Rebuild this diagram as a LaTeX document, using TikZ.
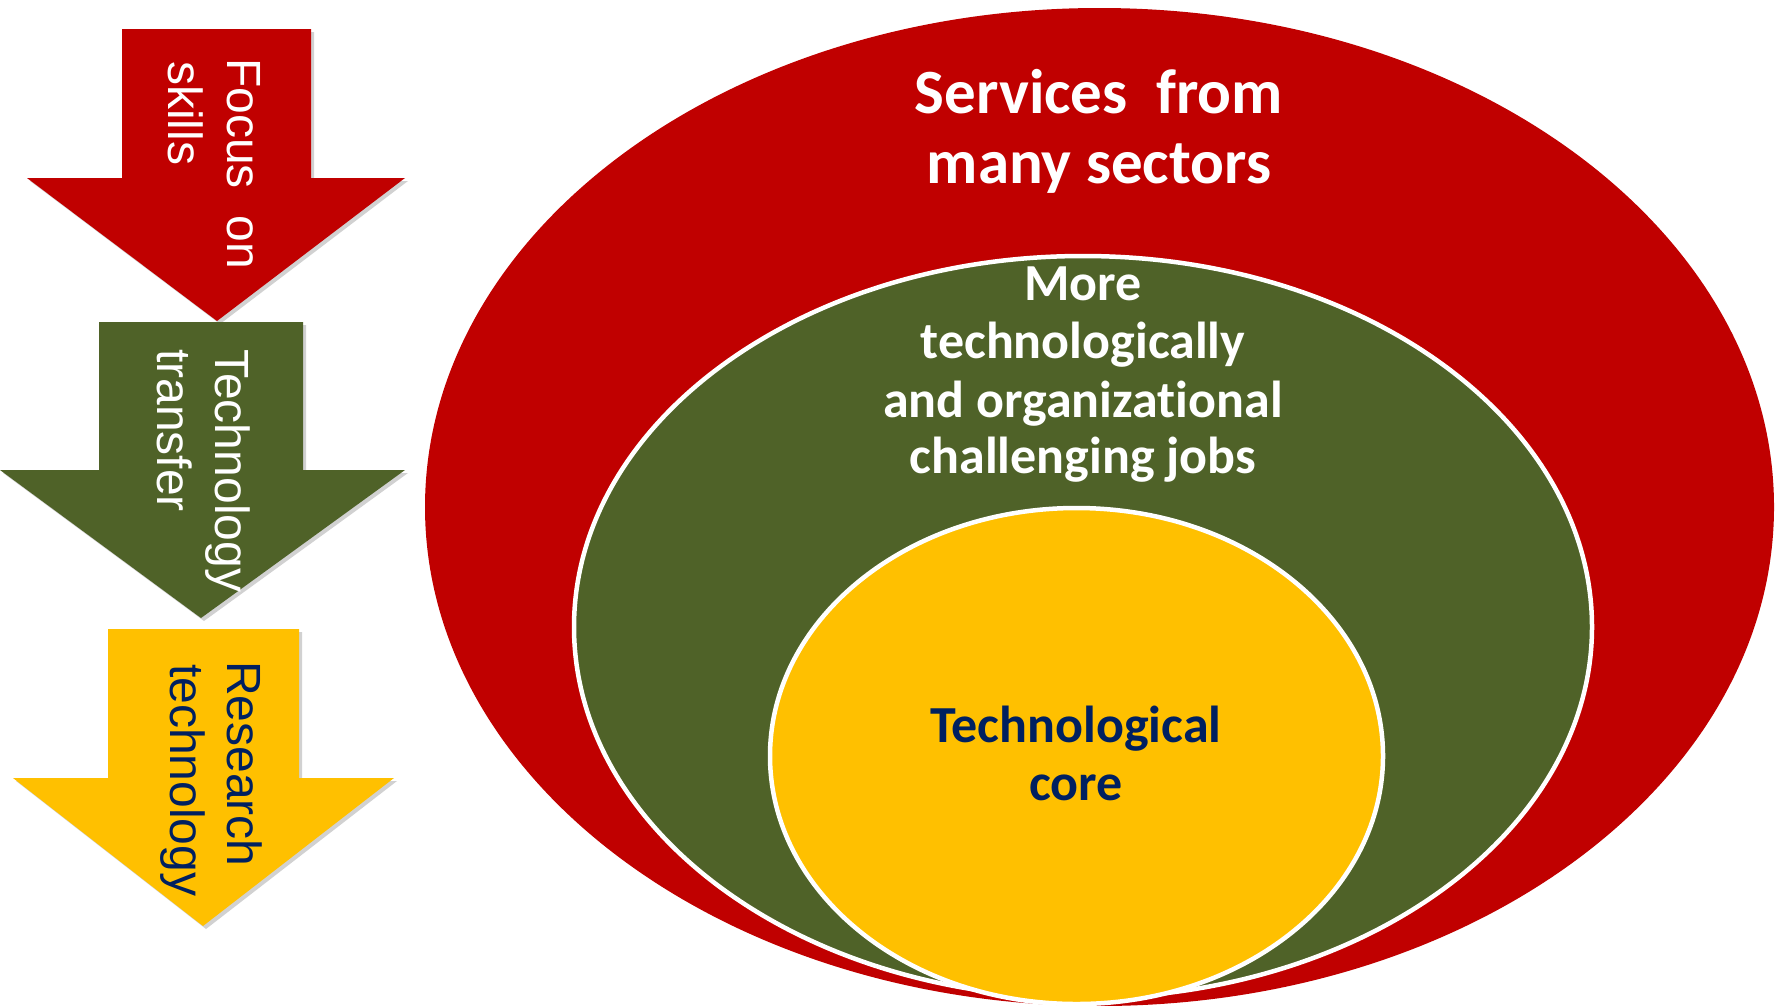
\documentclass[tikz,border=0pt]{standalone}
\usepackage{fontspec}
\setmainfont{Liberation Sans}
\newfontfamily\calib[Ligatures=NoCommon]{Carlito}
\definecolor{rd}{HTML}{C00000}
\definecolor{gr}{HTML}{4F6228}
\definecolor{yl}{HTML}{FFC000}
\definecolor{nv}{HTML}{002060}
\tikzset{
  arrowtxt/.style={rotate=-90, anchor=base west, inner sep=0pt, font=\fontsize{48}{58}\selectfont},
  elltxt/.style={anchor=base, inner sep=0pt, font=\calib\bfseries\fontsize{52}{58}\selectfont},
  bigtxt/.style={anchor=base, inner sep=0pt, font=\calib\bfseries\fontsize{63}{70}\selectfont},
  ring/.style={draw=white, line width=4.5pt},
  shade/.style={fill=black, opacity=0.18}
}
\begin{document}
\begin{tikzpicture}[x=1pt,y=-1pt]
\useasboundingbox (0,0) rectangle (1776,1005);
% ---- arrows (shadows first) ----
\begin{scope}[shift={(3,3)}]
  \fill[shade] (122,29) -- (311,29) -- (311,178) -- (405,178) -- (217,321) -- (27,178) -- (122,178) -- cycle;
  \fill[shade] (99,322) -- (303,322) -- (303,470) -- (405,470) -- (201,618) -- (0,470) -- (99,470) -- cycle;
  \fill[shade] (108,629) -- (299,629) -- (299,778) -- (394,778) -- (203,926) -- (13,778) -- (108,778) -- cycle;
\end{scope}
\fill[rd] (122,29) -- (311,29) -- (311,178) -- (405,178) -- (217,321) -- (27,178) -- (122,178) -- cycle;
\fill[gr] (99,322) -- (303,322) -- (303,470) -- (405,470) -- (201,618) -- (0,470) -- (99,470) -- cycle;
\fill[yl] (108,629) -- (299,629) -- (299,778) -- (394,778) -- (203,926) -- (13,778) -- (108,778) -- cycle;
\node[arrowtxt, text=white] (f1) at (227,58) {Focus~ on};
\node[arrowtxt, text=white] (f2) at (168,61) {skills};
\node[arrowtxt, text=white] (t1) at (215,349) {Technology};
\node[arrowtxt, text=white] (t2) at (157,349) {transfer};
\node[arrowtxt, text=nv] (r1) at (227,661) {Research};
\node[arrowtxt, text=nv] (r2) at (170,664) {technology};
% ---- ellipses ----
\fill[rd] (1099.5,507) ellipse [x radius=674.5pt, y radius=499pt];
\filldraw[fill=gr, ring] (1083,627) ellipse [x radius=509pt, y radius=371pt];
\filldraw[fill=yl, ring] (1076.5,756) ellipse [x radius=306.5pt, y radius=248pt];
% ---- ellipse texts ----
\node[bigtxt, text=white] (s1) at (1099,113) {Services~ from};
\node[bigtxt, text=white] (s2) at (1099,183) {many sectors};
\node[elltxt, text=white] (m1) at (1083,300) {More};
\node[elltxt, text=white] (m2) at (1083,358) {technologically};
\node[elltxt, text=white] (m3) at (1083,417) {and organizational};
\node[elltxt, text=white] (m4) at (1083,473) {challenging jobs};
\node[elltxt, text=nv] (c1) at (1076,742) {Technological};
\node[elltxt, text=nv] (c2) at (1076,800) {core};
\end{tikzpicture}
\end{document}
